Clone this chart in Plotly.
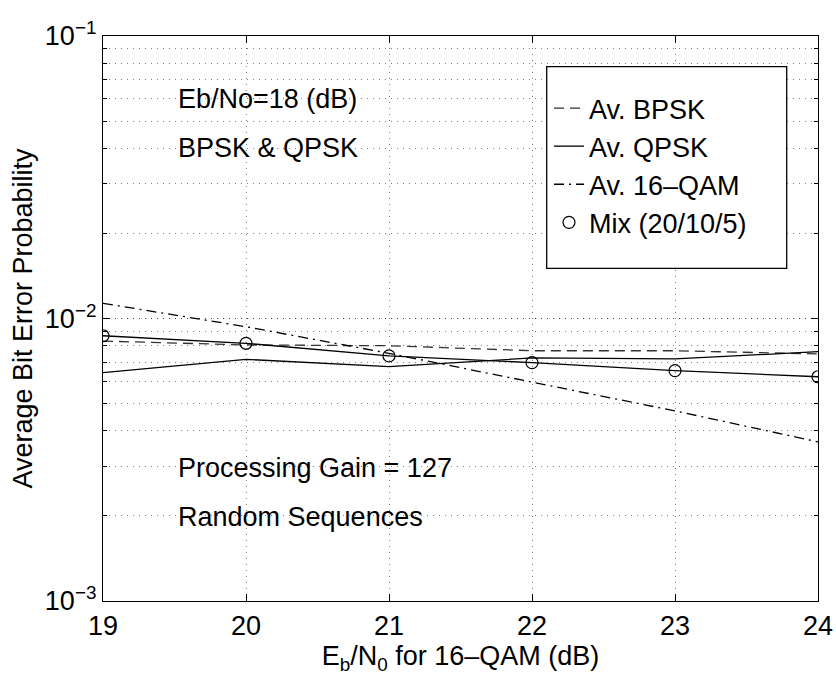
import plotly.graph_objects as go

x_vals = [19, 20, 21, 22, 23, 24]
bpsk = [8.32e-3, 8.06e-3, 8.01e-3, 7.69e-3, 7.69e-3, 7.49e-3]
qpsk = [6.43e-3, 7.17e-3, 6.75e-3, 7.25e-3, 7.19e-3, 7.63e-3]
qam16 = [1.132e-2, 9.35e-3, 7.53e-3, 5.97e-3, 4.71e-3, 3.66e-3]
mix = [8.69e-3, 8.17e-3, 7.37e-3, 6.98e-3, 6.54e-3, 6.22e-3]

y_tickvals = [1e-3, 1e-2, 1e-1]
y_ticktext = ["10<sup>\u22123</sup>", "10<sup>\u22122</sup>", "10<sup>\u22121</sup>"]
x_tickvals = [19, 20, 21, 22, 23, 24]

FONT = "Liberation Sans, Arial, sans-serif"
FS = 27

fig = go.Figure()
fig.add_trace(go.Scatter(x=x_vals, y=bpsk, mode="lines", name="Av. BPSK",
                         line=dict(color="#333333", width=1.3, dash="10px,6px"), legendgroup="a"))
fig.add_trace(go.Scatter(x=x_vals, y=qpsk, mode="lines", name="Av. QPSK",
                         line=dict(color="black", width=1.3), legendgroup="b"))
fig.add_trace(go.Scatter(x=x_vals, y=qam16, mode="lines", name="Av. 16\u2013QAM",
                         line=dict(color="black", width=1.3, dash="10px,5px,2px,5px"), legendgroup="c"))
fig.add_trace(go.Scatter(x=x_vals, y=mix, mode="lines", showlegend=False,
                         line=dict(color="black", width=1.3), legendgroup="d"))
fig.add_trace(go.Scatter(x=x_vals, y=mix, mode="markers", name="Mix (20/10/5)",
                         marker=dict(symbol="circle-open", size=12, color="black",
                                     line=dict(width=1.2, color="black")), legendgroup="d"))

annots = [
    (19.51, -1.223, "Eb/No=18 (dB)"),
    (19.51, -1.396, "BPSK &amp; QPSK"),
    (19.51, -2.529, "Processing Gain = 127"),
    (19.51, -2.703, "Random Sequences"),
]
for ax_, ay_, txt in annots:
    fig.add_annotation(x=ax_, y=ay_, xref="x", yref="y", text=txt, showarrow=False,
                       xanchor="left", yanchor="middle", font=dict(size=FS, color="black", family=FONT))

# legend box
fig.add_shape(type="rect", xref="paper", yref="paper",
              x0=(546.7 - 103) / 715, x1=(786.7 - 103) / 715,
              y0=(601 - 268.3) / 565, y1=(601 - 66.7) / 565,
              line=dict(color="black", width=1.3), fillcolor="white", layer="above")

grid_col = "rgba(0,0,0,0.5)"
gdash = "1px,5px"
fig.update_layout(
    width=836, height=675,
    margin=dict(l=103, r=18, t=36, b=74, autoexpand=False),
    plot_bgcolor="white", paper_bgcolor="white",
    font=dict(family=FONT, size=FS, color="black"),
    showlegend=True,
    legend=dict(x=(549 - 103) / 715, y=(601 - 84) / 565, xanchor="left", yanchor="top",
                bgcolor="rgba(0,0,0,0)", borderwidth=0, tracegroupgap=0,
                font=dict(size=FS, family=FONT, color="black")),
    xaxis=dict(range=[19, 24], tickvals=x_tickvals, ticks="inside", ticklen=7, automargin=False,
               tickcolor="black", showline=True, linecolor="black", linewidth=1.3, mirror="allticks",
               showgrid=True, gridcolor=grid_col, griddash=gdash, gridwidth=1, zeroline=False,
               tickfont=dict(size=FS),
               title=dict(text="E<sub>b</sub>/N<sub>0</sub> for 16\u2013QAM (dB)", standoff=18,
                          font=dict(size=FS))),
    yaxis=dict(type="log", range=[-3, -1], tickvals=y_tickvals, ticktext=y_ticktext, automargin=False,
               ticks="inside", ticklen=7, tickcolor="black",
               showline=True, linecolor="black", linewidth=1.3, mirror="allticks",
               showgrid=True, gridcolor=grid_col, griddash=gdash, gridwidth=1, zeroline=False,
               tickfont=dict(size=FS),
               minor=dict(ticks="inside", ticklen=4, tickcolor="black", showgrid=True,
                          gridcolor=grid_col, griddash=gdash, gridwidth=1, dtick="D1"),
               title=dict(text="Average Bit Error Probability", standoff=4, font=dict(size=FS))),
)

fig.write_html("out.html")
